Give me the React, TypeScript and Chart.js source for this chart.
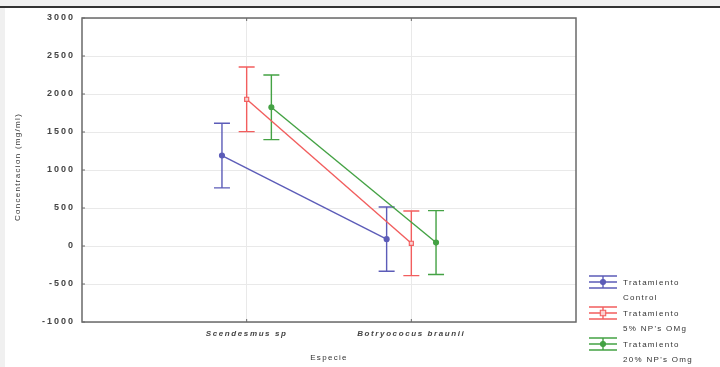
import React, { useEffect, useRef } from "react";
import { Chart, registerables } from "chart.js";

Chart.register(...registerables);

const categories = ["Scendesmus sp", "Botryococus braunii"];
const controlMeans = [1190, 90];
const controlErr = [425, 423];
const np5Means = [1930, 35];
const np5Err = [425, 425];
const np20Means = [1825, 45];
const np20Err = [425, 420];
const legendLines = [
  ["Tratamiento", "Control"],
  ["Tratamiento", "5% NP's OMg"],
  ["Tratamiento", "20% NP's Omg"],
];
const yMin = -1000;
const yMax = 3000;
const yStep = 500;
const xTitle = "Especie";
const yTitle = "Concentracion (mg/ml)";

const series = [
  { means: controlMeans, err: controlErr, offset: -0.15, color: "#5c5cb8", style: "circle", fill: "#5c5cb8" },
  { means: np5Means, err: np5Err, offset: 0, color: "#f25e5e", style: "rect", fill: "#fbd0d0" },
  { means: np20Means, err: np20Err, offset: 0.15, color: "#44a244", style: "circle", fill: "#44a244" },
];

const FONT = "'Liberation Sans', Arial, sans-serif";

function drawMarker(ctx: CanvasRenderingContext2D, s: any, x: number, y: number) {
  ctx.save();
  ctx.lineWidth = 1.1;
  ctx.strokeStyle = s.color;
  ctx.fillStyle = s.fill;
  ctx.beginPath();
  if (s.style === "rect") {
    ctx.rect(x - 2.7, y - 2.7, 5.4, 5.4);
  } else {
    ctx.arc(x, y, 2.5, 0, Math.PI * 2);
  }
  ctx.fill();
  ctx.stroke();
  ctx.restore();
}

const bgPlugin = {
  id: "bg",
  beforeDraw(chart: any) {
    const ctx = chart.ctx;
    ctx.save();
    ctx.fillStyle = "#ffffff";
    ctx.fillRect(0, 0, chart.width, chart.height);
    ctx.fillStyle = "#f0f0f0";
    ctx.fillRect(0, 0, chart.width, 6);
    ctx.fillRect(0, 8, 5, chart.height);
    ctx.fillStyle = "#333333";
    ctx.fillRect(0, 6, chart.width, 2);
    ctx.restore();
  },
};

const errPlugin = {
  id: "errbars",
  beforeDatasetsDraw(chart: any) {
    const ctx = chart.ctx;
    const xs = chart.scales.x;
    const ys = chart.scales.y;
    series.forEach((s) => {
      ctx.save();
      ctx.strokeStyle = s.color;
      ctx.lineWidth = 1.4;
      s.means.forEach((m, i) => {
        const x = xs.getPixelForValue(i + 1 + s.offset);
        const yt = ys.getPixelForValue(m + s.err[i]);
        const yb = ys.getPixelForValue(m - s.err[i]);
        ctx.beginPath();
        ctx.moveTo(x, yt);
        ctx.lineTo(x, yb);
        ctx.moveTo(x - 8, yt);
        ctx.lineTo(x + 8, yt);
        ctx.moveTo(x - 8, yb);
        ctx.lineTo(x + 8, yb);
        ctx.stroke();
      });
      ctx.restore();
    });
  },
};

const decoPlugin = {
  id: "deco",
  afterDraw(chart: any) {
    const ctx = chart.ctx as any;
    const a = chart.chartArea;
    const xs = chart.scales.x;
    const ys = chart.scales.y;
    ctx.save();
    // frame
    ctx.strokeStyle = "#6a6a6a";
    ctx.lineWidth = 1.5;
    ctx.strokeRect(a.left, a.top, a.right - a.left, a.bottom - a.top);
    // inward tick marks
    ctx.lineWidth = 1;
    ctx.beginPath();
    ys.ticks.forEach((t: any) => {
      const y = ys.getPixelForValue(t.value);
      ctx.moveTo(a.left, y);
      ctx.lineTo(a.left + 3, y);
    });
    xs.ticks.forEach((t: any) => {
      const x = xs.getPixelForValue(t.value);
      ctx.moveTo(x, a.top);
      ctx.lineTo(x, a.top + 3);
      ctx.moveTo(x, a.bottom);
      ctx.lineTo(x, a.bottom - 3);
    });
    ctx.stroke();

    // y tick labels
    ctx.fillStyle = "#444";
    ctx.font = `bold 9px ${FONT}`;
    ctx.letterSpacing = "2px";
    ctx.textAlign = "right";
    ctx.textBaseline = "middle";
    ys.ticks.forEach((t: any) => {
      const y = ys.getPixelForValue(t.value);
      ctx.fillText(String(t.value), a.left - 7, y);
    });
    // x tick labels
    ctx.font = `italic bold 8px ${FONT}`;
    ctx.letterSpacing = "1.6px";
    ctx.textAlign = "center";
    xs.ticks.forEach((t: any) => {
      const x = xs.getPixelForValue(t.value);
      const lbl = categories[Math.round(t.value) - 1] || "";
      ctx.fillText(lbl, x, a.bottom + 12);
    });
    // titles
    ctx.fillStyle = "#333";
    ctx.font = `8px ${FONT}`;
    ctx.letterSpacing = "1.3px";
    ctx.fillText(xTitle, (a.left + a.right) / 2, 358);
    ctx.save();
    ctx.translate(18, (a.top + a.bottom) / 2 - 3);
    ctx.rotate(-Math.PI / 2);
    ctx.fillText(yTitle, 0, 0);
    ctx.restore();

    // legend
    series.forEach((s, i) => {
      const cy = 282 + i * 31;
      const x0 = 589;
      const x1 = 617;
      const xc = 603;
      ctx.save();
      ctx.strokeStyle = s.color;
      ctx.lineWidth = 1.4;
      ctx.beginPath();
      [-6, 0, 6].forEach((d) => {
        ctx.moveTo(x0, cy + d);
        ctx.lineTo(x1, cy + d);
      });
      ctx.moveTo(xc, cy - 6);
      ctx.lineTo(xc, cy + 6);
      ctx.stroke();
      ctx.restore();
      drawMarker(ctx, s, xc, cy);
      ctx.fillStyle = "#333";
      ctx.font = `8px ${FONT}`;
      ctx.letterSpacing = "1.3px";
      ctx.textAlign = "left";
      ctx.textBaseline = "middle";
      ctx.fillText(legendLines[i][0], 623, cy + 1);
      ctx.fillText(legendLines[i][1], 623, cy + 16);
    });
    ctx.letterSpacing = "0px";
    ctx.restore();
  },
};

export default function App() {
  const ref = useRef<HTMLCanvasElement | null>(null);
  useEffect(() => {
    document.body.style.margin = "0";
    const canvas = ref.current;
    if (!canvas) return;
    const chart = new Chart(canvas, {
      type: "line",
      data: {
        datasets: series.map((s, di) => ({
          label: legendLines[di].join(" "),
          data: s.means.map((m, i) => ({ x: i + 1 + s.offset, y: m })),
          borderColor: s.color,
          backgroundColor: s.fill,
          borderWidth: 1.4,
          pointStyle: s.style as any,
          pointRadius: s.style === "rect" ? 2.9 : 2.5,
          pointBorderWidth: 1.1,
          pointBorderColor: s.color,
          pointBackgroundColor: s.fill,
          showLine: true,
          tension: 0,
        })),
      },
      options: {
        animation: false,
        responsive: false,
        maintainAspectRatio: false,
        layout: { padding: { top: 18, right: 144, left: 0, bottom: 0 } },
        plugins: { legend: { display: false }, tooltip: { enabled: false }, title: { display: false } },
        scales: {
          x: {
            type: "linear",
            min: 0,
            max: 3,
            afterBuildTicks: (scale: any) => {
              scale.ticks = categories.map((_, i) => ({ value: i + 1 }));
            },
            afterFit: (scale: any) => {
              scale.height = 45;
            },
            ticks: { display: false },
            grid: { color: "#e9e9e9", drawTicks: false, lineWidth: 1 },
            border: { display: false },
          },
          y: {
            type: "linear",
            min: yMin,
            max: yMax,
            ticks: { display: false, stepSize: yStep },
            afterFit: (scale: any) => {
              scale.width = 82;
            },
            grid: { color: "#e9e9e9", drawTicks: false, lineWidth: 1 },
            border: { display: false },
          },
        },
      },
      plugins: [bgPlugin, errPlugin, decoPlugin],
    });
    return () => chart.destroy();
  }, []);
  return (
    <div style={{ position: "absolute", left: 0, top: 0, width: 720, height: 367 }}>
      <canvas ref={ref} width={720} height={367} style={{ width: 720, height: 367, display: "block" }} />
    </div>
  );
}
